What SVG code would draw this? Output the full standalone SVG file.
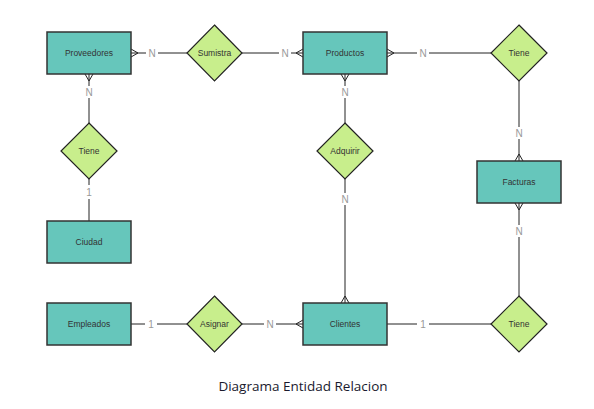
<svg xmlns="http://www.w3.org/2000/svg" width="594" height="409" viewBox="0 0 594 409">
<style>
.ent{fill:#66c6bb;stroke:#333;stroke-width:1.5}
.rel{fill:#c8ee8c;stroke:#222;stroke-width:1.2}
.t{font-family:"Liberation Sans",Arial,sans-serif;font-size:8.5px;fill:#333;text-anchor:middle;dominant-baseline:central}
.ln{stroke:#222;stroke-width:1;fill:none}
.lb{font-family:"Liberation Sans",Arial,sans-serif;font-size:10px;fill:#999;text-anchor:middle;dominant-baseline:central}
.bg{fill:#fff}
.title{font-family:"Open Sans",sans-serif;font-size:13.5px;fill:#1a1a2e;text-anchor:middle}
</style>
<rect width="594" height="409" fill="#fff"/>
<g id="connectors">
<path class="ln" d="M131 53H187 M131 49L138 53L131 57"/>
<path class="ln" d="M242 53H303 M303 49L296 53L303 57"/>
<path class="ln" d="M387 53H491 M387 49L394 53L387 57"/>
<path class="ln" d="M519 81V161 M515 161L519 154L523 161"/>
<path class="ln" d="M519 203V296 M515 203L519 210L523 203"/>
<path class="ln" d="M89 74V123 M85 74L89 81L93 74"/>
<path class="ln" d="M89 179V221"/>
<path class="ln" d="M345 74V123 M341 74L345 81L349 74"/>
<path class="ln" d="M345 179V303 M341 303L345 296L349 303"/>
<path class="ln" d="M131 324H187"/>
<path class="ln" d="M242 324H303 M303 320L296 324L303 328"/>
<path class="ln" d="M387 324H491"/>
<rect class="bg" x="146" y="47" width="12" height="12"/><text class="lb" x="152" y="53">N</text>
<rect class="bg" x="279" y="47" width="12" height="12"/><text class="lb" x="285" y="53">N</text>
<rect class="bg" x="417" y="47" width="12" height="12"/><text class="lb" x="423" y="53">N</text>
<rect class="bg" x="513" y="127" width="12" height="12"/><text class="lb" x="519" y="133">N</text>
<rect class="bg" x="513" y="225" width="12" height="12"/><text class="lb" x="519" y="231">N</text>
<rect class="bg" x="83" y="86" width="12" height="12"/><text class="lb" x="89" y="92">N</text>
<rect class="bg" x="83" y="185" width="12" height="14"/><text class="lb" x="89" y="192">1</text>
<rect class="bg" x="339" y="86" width="12" height="12"/><text class="lb" x="345" y="92">N</text>
<rect class="bg" x="339" y="193" width="12" height="12"/><text class="lb" x="345" y="199">N</text>
<rect class="bg" x="145" y="318" width="12" height="12"/><text class="lb" x="151" y="324">1</text>
<rect class="bg" x="264" y="318" width="12" height="12"/><text class="lb" x="270" y="324">N</text>
<rect class="bg" x="417" y="318" width="12" height="12"/><text class="lb" x="423" y="324">1</text>
</g>
<g id="proveedores"><rect class="ent" x="47" y="32" width="84" height="42"/><text class="t" x="89" y="53">Proveedores</text></g>
<g id="sumistra"><polygon class="rel" points="214.5,25 242,53 214.5,81 187,53"/><text class="t" x="214.5" y="53">Sumistra</text></g>
<g id="productos"><rect class="ent" x="303" y="32" width="84" height="42"/><text class="t" x="345" y="53">Productos</text></g>
<g id="tiene-productos"><polygon class="rel" points="519,25 547,53 519,81 491,53"/><text class="t" x="519" y="53">Tiene</text></g>
<g id="tiene-ciudad"><polygon class="rel" points="89,123 117,151 89,179 61,151"/><text class="t" x="89" y="151">Tiene</text></g>
<g id="adquirir"><polygon class="rel" points="345,123 373,151 345,179 317,151"/><text class="t" x="345" y="151">Adquirir</text></g>
<g id="facturas"><rect class="ent" x="477" y="161" width="84" height="42"/><text class="t" x="519" y="182">Facturas</text></g>
<g id="ciudad"><rect class="ent" x="47" y="221" width="84" height="42"/><text class="t" x="89" y="242">Ciudad</text></g>
<g id="empleados"><rect class="ent" x="47" y="303" width="84" height="42"/><text class="t" x="89" y="324">Empleados</text></g>
<g id="asignar"><polygon class="rel" points="214.5,296 242,324 214.5,352 187,324"/><text class="t" x="214.5" y="324">Asignar</text></g>
<g id="clientes"><rect class="ent" x="303" y="303" width="84" height="42"/><text class="t" x="345" y="324">Clientes</text></g>
<g id="tiene-clientes"><polygon class="rel" points="519,296 547,324 519,352 491,324"/><text class="t" x="519" y="324">Tiene</text></g>
<text class="title" x="303" y="391">Diagrama Entidad Relacion</text>
</svg>
